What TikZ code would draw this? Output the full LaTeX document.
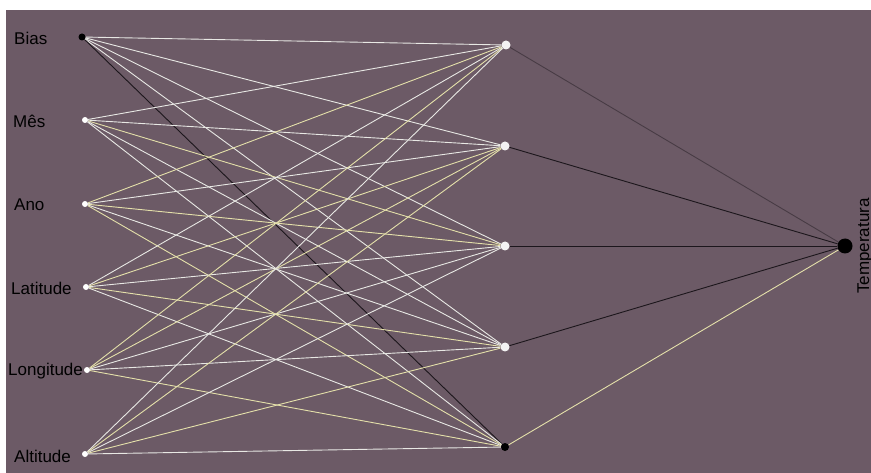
\documentclass[tikz,border=0pt]{standalone}
\usepackage{fontspec}
\setmainfont{Liberation Sans}
\usetikzlibrary{backgrounds}
\definecolor{bg}{RGB}{108,90,102}
\definecolor{wl}{RGB}{232,232,228}
\definecolor{yl}{RGB}{228,224,170}
\definecolor{dl}{RGB}{28,22,28}
\begin{document}
\begin{tikzpicture}[x=1pt,y=-1pt,
  wnode/.style={circle,fill=white,inner sep=0pt,minimum size=6pt},
  hnode/.style={circle,fill=white!92!bg,inner sep=0pt,minimum size=9pt},
  knode/.style={circle,fill=black,inner sep=0pt,minimum size=7pt},
  lab/.style={font=\fontsize{17}{20}\selectfont,text=black,inner sep=0pt,anchor=west},
  wlink/.style={wl,line width=0.9pt},
  ylink/.style={yl,line width=0.9pt},
  dlink/.style={dl,line width=0.9pt}]
\useasboundingbox (0,0) rectangle (871,473);
% input nodes
\node[knode] (i0) at (82,37) {};
\node[wnode] (i1) at (85,120) {};
\node[wnode] (i2) at (85,204) {};
\node[wnode] (i3) at (86,287) {};
\node[wnode] (i4) at (87,370) {};
\node[wnode] (i5) at (85,454) {};
% labels
\node[lab] (l0) at (14,38) {Bias};
\node[lab] (l1) at (13,121) {Mês};
\node[lab] (l2) at (14,205) {Ano};
\node[lab] (l3) at (11,288) {Latitude};
\node[lab] (l4) at (8,371) {Longitude};
\node[lab] (l5) at (14,456) {Altitude};
% hidden nodes
\node[hnode] (h1) at (506,45) {};
\node[hnode] (h2) at (505,146) {};
\node[hnode] (h3) at (505,246) {};
\node[hnode] (h4) at (505,347) {};
\node[knode,minimum size=8pt] (h5) at (505,447) {};
% output
\node[knode,minimum size=15pt] (o) at (845,246) {};
\node[font=\fontsize{17}{20}\selectfont,rotate=90,inner sep=0pt] (t) at (865,246) {Temperatura};
\begin{pgfonlayer}{background}
\fill[white] (0,0) rectangle (871,473);
\fill[bg] (6,10) rectangle (871,473);
% bias links
\foreach \h in {1,2,3,4} \draw[wlink] (i0) -- (h\h);
\draw[dlink] (i0) -- (h5);
% input links
\foreach \i/\h/\s in {1/1/wlink,1/2/wlink,1/3/ylink,1/4/wlink,1/5/wlink,
                      2/1/ylink,2/2/wlink,2/3/ylink,2/4/wlink,2/5/ylink,
                      3/1/wlink,3/2/ylink,3/3/wlink,3/4/ylink,3/5/wlink,
                      4/1/ylink,4/2/ylink,4/3/wlink,4/4/wlink,4/5/ylink,
                      5/1/wlink,5/2/ylink,5/3/wlink,5/4/ylink,5/5/wlink}
  \draw[\s] (i\i) -- (h\h);
% hidden to output
\draw[dlink,opacity=0.45] (h1) -- (o);
\draw[dlink] (h2) -- (o);
\draw[dlink] (h3) -- (o);
\draw[dlink] (h4) -- (o);
\draw[ylink] (h5) -- (o);
\end{pgfonlayer}
\end{tikzpicture}
\end{document}
